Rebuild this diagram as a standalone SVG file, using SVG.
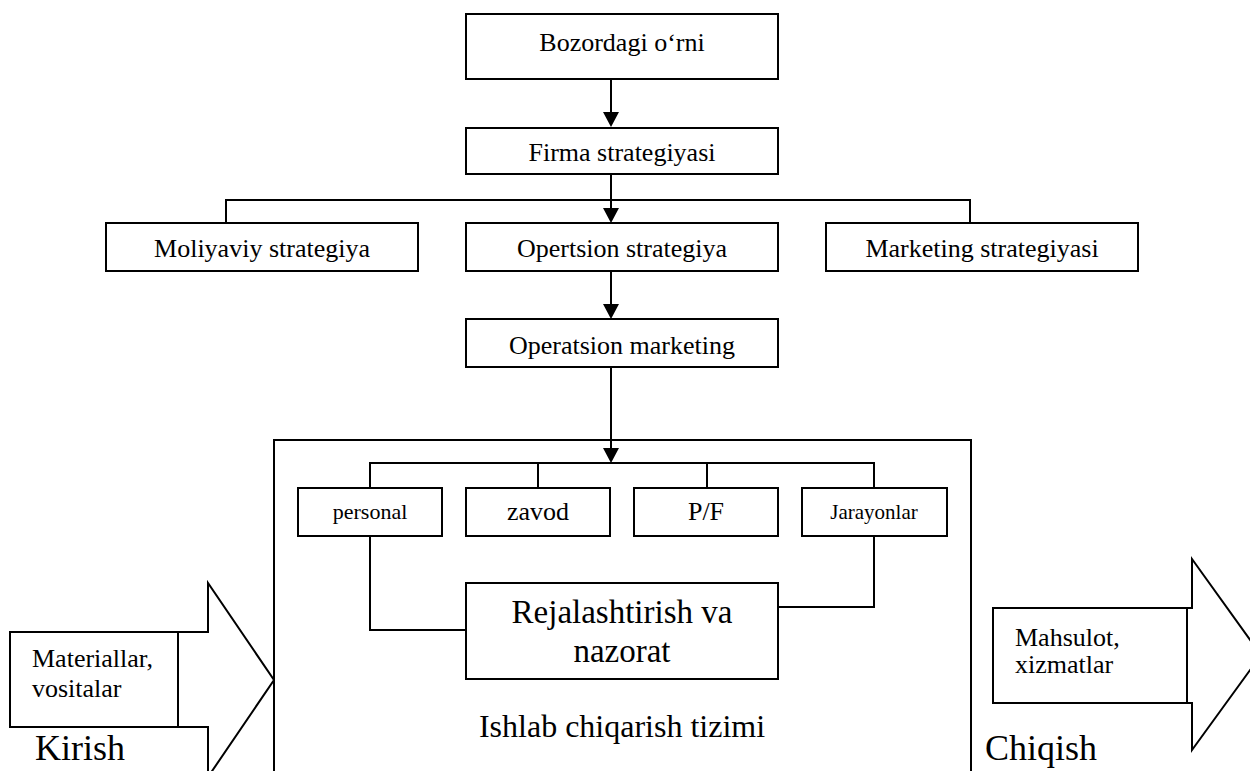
<svg xmlns="http://www.w3.org/2000/svg" width="1250" height="771" viewBox="0 0 1250 771">
  <style>
    .box { fill: #ffffff; stroke: #000000; stroke-width: 2; }
    .line { fill: none; stroke: #000000; stroke-width: 2; }
    .big { fill: #ffffff; stroke: #000000; stroke-width: 2; stroke-linejoin: miter; }
    text { font-family: "Liberation Serif", "Times New Roman", serif; fill: #000000; }
    .t26 { font-size: 26px; text-anchor: middle; }
    .t22 { font-size: 22px; text-anchor: middle; }
    .t21 { font-size: 21px; text-anchor: middle; }
    .t33 { font-size: 33px; text-anchor: middle; }
    .t32 { font-size: 32px; text-anchor: middle; }
    .t36 { font-size: 36px; }
    .side { font-size: 26px; }
  </style>
  <defs>
    <!-- downward filled arrowhead; its base sits on the line end, tip 15px further -->
    <marker id="down" markerWidth="16" markerHeight="15" refX="8" refY="0" orient="0" markerUnits="userSpaceOnUse" viewBox="0 0 16 15">
      <path d="M0,0 L16,0 L8,15 Z" fill="#000000"/>
    </marker>
  </defs>

  <!-- production system frame (open at the bottom edge) -->
  <g id="system">
    <path class="big" d="M274,800 L274,440 L971,440 L971,800"/>
    <text class="t32" x="622" y="737">Ishlab chiqarish tizimi</text>
  </g>

  <!-- input arrow -->
  <g id="input">
    <path class="box" d="M10,632 L208,632 L208,583 L274,680 L208,777 L208,727 L10,727 Z"/>
    <line class="line" x1="178" y1="632" x2="178" y2="727"/>
    <text class="side" x="32" y="667">Materiallar,</text>
    <text class="side" x="32" y="697">vositalar</text>
    <text class="t36" x="35" y="760">Kirish</text>
  </g>

  <!-- output arrow -->
  <g id="output">
    <path class="box" d="M993,608 L1192,608 L1192,559 L1261,655 L1192,750 L1192,703 L993,703 Z"/>
    <line class="line" x1="1187" y1="608" x2="1187" y2="703"/>
    <text class="side" x="1015" y="646">Mahsulot,</text>
    <text class="side" x="1015" y="673">xizmatlar</text>
    <text class="t36" x="985" y="760">Chiqish</text>
  </g>

  <!-- connectors -->
  <g id="connectors">
    <line class="line" x1="611" y1="79" x2="611" y2="112" marker-end="url(#down)"/>
    <line class="line" x1="611" y1="174" x2="611" y2="208" marker-end="url(#down)"/>
    <polyline class="line" points="226,223 226,200 970,200 970,223"/>
    <line class="line" x1="611" y1="271" x2="611" y2="304" marker-end="url(#down)"/>
    <line class="line" x1="611" y1="367" x2="611" y2="448" marker-end="url(#down)"/>
    <polyline class="line" points="370,488 370,463 874,463 874,488"/>
    <line class="line" x1="538" y1="463" x2="538" y2="488"/>
    <line class="line" x1="707" y1="463" x2="707" y2="488"/>
    <polyline class="line" points="370,536 370,630 466,630"/>
    <polyline class="line" points="874,536 874,607 778,607"/>
  </g>

  <g id="bozordagi">
    <rect class="box" x="466" y="14" width="312" height="65"/>
    <text class="t26" x="622" y="51">Bozordagi o‘rni</text>
  </g>
  <g id="firma">
    <rect class="box" x="466" y="128" width="312" height="46"/>
    <text class="t26" x="622" y="161">Firma strategiyasi</text>
  </g>
  <g id="moliyaviy">
    <rect class="box" x="106" y="223" width="312" height="48"/>
    <text class="t26" x="262" y="257">Moliyaviy strategiya</text>
  </g>
  <g id="opertsion">
    <rect class="box" x="466" y="223" width="312" height="48"/>
    <text class="t26" x="622" y="257">Opertsion strategiya</text>
  </g>
  <g id="marketing">
    <rect class="box" x="826" y="223" width="312" height="48"/>
    <text class="t26" x="982" y="257">Marketing strategiyasi</text>
  </g>
  <g id="operatsion-marketing">
    <rect class="box" x="466" y="319" width="312" height="48"/>
    <text class="t26" x="622" y="354">Operatsion marketing</text>
  </g>
  <g id="personal">
    <rect class="box" x="298" y="488" width="144" height="48"/>
    <text class="t22" x="370" y="519">personal</text>
  </g>
  <g id="zavod">
    <rect class="box" x="466" y="488" width="144" height="48"/>
    <text class="t26" x="538" y="520">zavod</text>
  </g>
  <g id="pf">
    <rect class="box" x="634" y="488" width="144" height="48"/>
    <text class="t26" x="706" y="520">P/F</text>
  </g>
  <g id="jarayonlar">
    <rect class="box" x="802" y="488" width="145" height="48"/>
    <text class="t21" x="874" y="519">Jarayonlar</text>
  </g>
  <g id="rejalashtirish">
    <rect class="box" x="466" y="583" width="312" height="96"/>
    <text class="t33" x="622" y="623">Rejalashtirish va</text>
    <text class="t33" x="622" y="662">nazorat</text>
  </g>
</svg>
